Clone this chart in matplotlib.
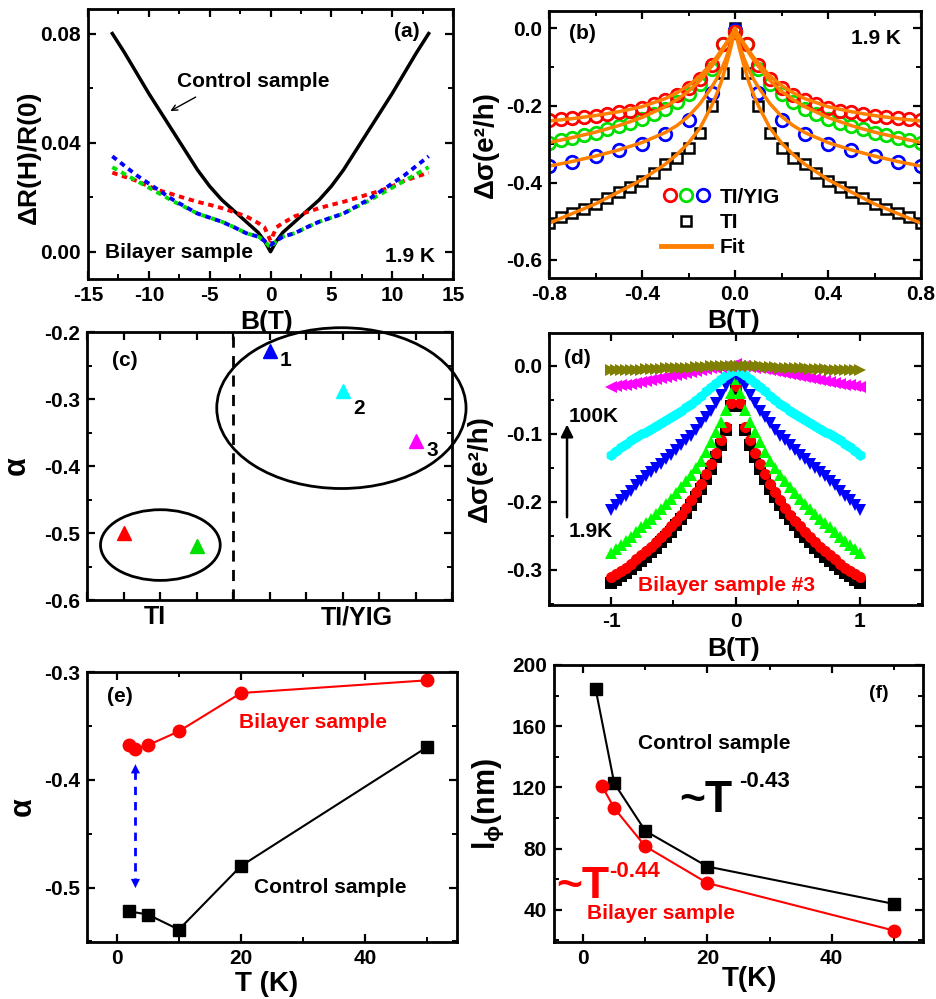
import numpy as np
import matplotlib
matplotlib.use('Agg')
import matplotlib.pyplot as plt
from matplotlib.patches import Ellipse
from matplotlib.lines import Line2D
from matplotlib.legend_handler import HandlerTuple
from matplotlib.ticker import MultipleLocator, FormatStrFormatter

plt.rcParams['font.family'] = ['Liberation Sans', 'DejaVu Sans']
plt.rcParams['font.weight'] = 'bold'
plt.rcParams['axes.labelweight'] = 'bold'
plt.rcParams['axes.unicode_minus'] = False
plt.rcParams['mathtext.fontset'] = 'custom'
plt.rcParams['mathtext.rm'] = 'Liberation Sans:bold'
plt.rcParams['mathtext.it'] = 'Liberation Sans:bold'
plt.rcParams['mathtext.bf'] = 'Liberation Sans:bold'

# (a) magnetoresistance, B >= 0 half (mirrored)
a_B = [0, 0.5, 1, 2, 3, 4, 5, 6, 7, 8, 9, 10, 11, 12, 13]
a_control = [0.0, 0.004, 0.007, 0.011, 0.015, 0.019, 0.024, 0.030, 0.037, 0.044, 0.051, 0.058, 0.0655, 0.073, 0.080]
a_red = [0.004, 0.009, 0.0105, 0.013, 0.0145, 0.016, 0.0172, 0.0183, 0.0196, 0.021, 0.0223, 0.024, 0.026, 0.0275, 0.029]
a_green = [0.0015, 0.004, 0.0055, 0.0068, 0.009, 0.011, 0.0125, 0.014, 0.0163, 0.0185, 0.021, 0.0235, 0.026, 0.0285, 0.031]
a_blue = [0.0025, 0.004, 0.0055, 0.0068, 0.009, 0.011, 0.0125, 0.014, 0.0165, 0.019, 0.022, 0.025, 0.028, 0.0315, 0.035]

# (b) WAL at 1.9 K
b_B = [0, 0.05, 0.1, 0.15, 0.2, 0.25, 0.3, 0.35, 0.4, 0.45, 0.5, 0.55, 0.6, 0.65, 0.7, 0.75, 0.8]
b_red = [-0.01, -0.04, -0.095, -0.13, -0.155, -0.172, -0.186, -0.197, -0.206, -0.213, -0.218, -0.222, -0.226, -0.229, -0.232, -0.235, -0.238]
b_green = [-0.01, -0.04, -0.105, -0.145, -0.17, -0.19, -0.208, -0.222, -0.235, -0.245, -0.254, -0.262, -0.27, -0.277, -0.284, -0.29, -0.296]
b_black = [0.0, -0.115, -0.2, -0.27, -0.31, -0.335, -0.352, -0.375, -0.395, -0.41, -0.425, -0.44, -0.455, -0.467, -0.478, -0.49, -0.505]
b_Bblue = [0, 0.1, 0.2, 0.3, 0.4, 0.5, 0.6, 0.7, 0.8]
b_blue = [-0.005, -0.168, -0.237, -0.275, -0.299, -0.316, -0.331, -0.346, -0.357]
fit_B = [0, 0.01, 0.02, 0.04, 0.06, 0.08, 0.1, 0.15, 0.2, 0.25, 0.3, 0.4, 0.5, 0.6, 0.7, 0.8]
fit_red = [0, -0.012, -0.022, -0.04, -0.058, -0.075, -0.09, -0.123, -0.148, -0.167, -0.182, -0.203, -0.216, -0.226, -0.234, -0.24]
fit_green = [0, -0.013, -0.024, -0.044, -0.064, -0.082, -0.098, -0.135, -0.163, -0.185, -0.203, -0.231, -0.252, -0.269, -0.283, -0.296]
fit_blue = [0, -0.025, -0.045, -0.08, -0.108, -0.132, -0.152, -0.195, -0.228, -0.252, -0.27, -0.296, -0.315, -0.331, -0.345, -0.357]
fit_black = [0, -0.03, -0.055, -0.1, -0.14, -0.172, -0.2, -0.258, -0.297, -0.327, -0.352, -0.392, -0.424, -0.455, -0.48, -0.505]

# (c) alpha per sample
c_x = [1, 3, 5, 7, 9]
c_alpha = [-0.50, -0.52, -0.228, -0.288, -0.362]
c_colors = ['red', '#00e000', 'blue', 'cyan', 'magenta']

# (d) bilayer sample #3 vs temperature
d_B = [0, 0.04, 0.08, 0.12, 0.16, 0.2, 0.24, 0.28, 0.32, 0.36, 0.4, 0.44, 0.48, 0.52,
       0.56, 0.6, 0.64, 0.68, 0.72, 0.76, 0.8, 0.84, 0.88, 0.92, 0.96, 1.0]
d_black = [-0.035, -0.06, -0.095, -0.117, -0.135, -0.152, -0.167, -0.181, -0.193, -0.205, -0.216, -0.226, -0.235,
           -0.244, -0.252, -0.26, -0.268, -0.274, -0.281, -0.287, -0.293, -0.299, -0.305, -0.31, -0.315, -0.319]
d_red = [-0.03, -0.055, -0.09, -0.11, -0.128, -0.145, -0.16, -0.174, -0.186, -0.197, -0.209, -0.219, -0.228,
         -0.236, -0.244, -0.252, -0.26, -0.266, -0.273, -0.279, -0.285, -0.291, -0.297, -0.302, -0.307, -0.311]
d_green = [-0.02, -0.04, -0.065, -0.083, -0.098, -0.113, -0.127, -0.14, -0.151, -0.161, -0.169, -0.178, -0.187,
           -0.196, -0.204, -0.211, -0.218, -0.225, -0.232, -0.238, -0.245, -0.252, -0.258, -0.264, -0.27, -0.276]
d_blue = [-0.014, -0.02, -0.03, -0.043, -0.055, -0.066, -0.076, -0.085, -0.095, -0.103, -0.11, -0.117, -0.124,
          -0.132, -0.138, -0.145, -0.151, -0.157, -0.163, -0.169, -0.176, -0.184, -0.191, -0.198, -0.205, -0.212]
d_cyan = [-0.006, -0.009, -0.014, -0.02, -0.026, -0.032, -0.038, -0.045, -0.051, -0.056, -0.061, -0.066, -0.071,
          -0.075, -0.08, -0.084, -0.089, -0.093, -0.097, -0.101, -0.105, -0.11, -0.115, -0.12, -0.126, -0.131]
d_magenta = [0.002, 0.0, -0.001, -0.002, -0.003, -0.004, -0.005, -0.007, -0.008, -0.009, -0.011, -0.012, -0.014,
             -0.015, -0.017, -0.018, -0.02, -0.021, -0.023, -0.024, -0.026, -0.027, -0.028, -0.029, -0.03, -0.031]
d_olive = [0.0, 0.0, 0.0, -0.001, -0.001, -0.001, -0.002, -0.002, -0.002, -0.003, -0.003, -0.003, -0.004,
           -0.004, -0.004, -0.005, -0.005, -0.005, -0.005, -0.006, -0.006, -0.006, -0.006, -0.007, -0.007, -0.007]

# (e) alpha vs T
e_T_bil = [1.9, 3, 5, 10, 20, 50]
e_bil = [-0.3674, -0.371, -0.368, -0.355, -0.3195, -0.3077]
e_T_con = [1.9, 5, 10, 20, 50]
e_con = [-0.522, -0.525, -0.539, -0.480, -0.3696]

# (f) phase coherence length vs T
f_T_con = [2, 5, 10, 20, 50]
f_con = [184.3, 122.7, 91.6, 68.3, 43.9]
f_T_bil = [3, 5, 10, 20, 50]
f_bil = [121.2, 106.4, 81.5, 57.5, 26.5]


def sym(x, y):
    x = np.asarray(x, float)
    y = np.asarray(y, float)
    return np.concatenate([-x[:0:-1], x]), np.concatenate([y[:0:-1], y])


def box(l, t, r, b):
    return [l / 936, 1 - b / 999, (r - l) / 936, (b - t) / 999]


def style(ax, xmaj, xmin, ymaj, ymin, yfmt=None):
    ax.xaxis.set_major_locator(MultipleLocator(xmaj))
    ax.xaxis.set_minor_locator(MultipleLocator(xmin))
    ax.yaxis.set_major_locator(MultipleLocator(ymaj))
    ax.yaxis.set_minor_locator(MultipleLocator(ymin))
    if yfmt:
        ax.yaxis.set_major_formatter(FormatStrFormatter(yfmt))
    ax.tick_params(which='both', direction='in', top=True, right=True, labelsize=15, pad=5)
    ax.tick_params(which='major', length=6, width=1.6)
    ax.tick_params(which='minor', length=3.5, width=1.4)
    for s in ax.spines.values():
        s.set_linewidth(2)


fig = plt.figure(figsize=(9.36, 9.99), dpi=100)
LAB = 19
TXT = 15

# ---- (a)
ax = fig.add_axes(box(88, 9, 453, 279))
x, y = sym(a_B, a_control)
ax.plot(x, y, color='black', lw=2.5)
for vals, c in [(a_red, 'red'), (a_green, '#00e000'), (a_blue, 'blue')]:
    x, y = sym(a_B, vals)
    ax.plot(x, y, color=c, lw=2.8, dashes=(1.4, 1.2))
ax.set_xlim(-15, 15)
ax.set_ylim(-0.01, 0.089)
style(ax, 5, 2.5, 0.04, 0.02, '%.2f')
ax.set_xlabel('B(T)', fontsize=LAB)
ax.set_ylabel('ΔR(H)/R(0)', fontsize=LAB)
ax.xaxis.set_label_coords(0.49, -0.115)
ax.yaxis.set_label_coords(-0.13, 0.45)
ax.text(11.2, 0.0808, '(a)', fontsize=15, ha='center', va='center')
ax.text(-1.4, 0.0623, 'Control sample', fontsize=TXT, ha='center', va='center')
ax.annotate('', xy=(-8.43, 0.0511), xytext=(-5.95, 0.0572),
            arrowprops=dict(arrowstyle='->', color='black', lw=1.0))
ax.text(-7.5, -0.0004, 'Bilayer sample', fontsize=TXT, ha='center', va='center')
ax.text(11.5, -0.0016, '1.9 K', fontsize=TXT, ha='center', va='center')

# ---- (b)
ax = fig.add_axes(box(549, 11, 921, 278))
ms_c = dict(marker='o', ls='none', mfc='none', ms=9, mew=2)
x, y = sym(b_B, b_black)
hk, = ax.plot(x, y, marker='s', ls='none', mfc='none', mec='black', ms=7.5, mew=1.8)
x, y = sym(b_Bblue, b_blue)
hb, = ax.plot(x, y, mec='blue', **ms_c)
x, y = sym(b_B, b_green)
hg, = ax.plot(x, y, mec='#00e000', **ms_c)
x, y = sym(b_B, b_red)
hr, = ax.plot(x, y, mec='red', **ms_c)
for vals in [fit_red, fit_green, fit_blue, fit_black]:
    x, y = sym(fit_B, vals)
    ax.plot(x, y, color='#ff8000', lw=2.5)
ax.set_xlim(-0.8, 0.8)
ax.set_ylim(-0.647, 0.045)
style(ax, 0.4, 0.2, 0.2, 0.1, '%.1f')
ax.xaxis.set_major_formatter(FormatStrFormatter('%.1f'))
ax.set_xlabel('B(T)', fontsize=LAB)
ax.set_ylabel('Δσ(e²/h)', fontsize=LAB + 1)
ax.xaxis.set_label_coords(0.495, -0.115)
ax.yaxis.set_label_coords(-0.134, 0.5)
ax.text(-0.656, -0.0145, '(b)', fontsize=15, ha='center', va='center')
ax.text(0.607, -0.027, '1.9 K', fontsize=TXT, ha='center', va='center')
leg = ax.legend([(hr, hg, hb), hk, Line2D([], [], color='#ff8000', lw=3.5)],
                ['TI/YIG', 'TI', 'Fit'],
                handler_map={tuple: HandlerTuple(ndivide=None, pad=0)},
                loc='upper left', bbox_to_anchor=(0.28, 0.37), frameon=False,
                fontsize=TXT, handlelength=2.4, handletextpad=0.4, labelspacing=0.3,
                borderaxespad=0)

# ---- (c)
ax = fig.add_axes(box(87, 332, 452, 600))
for xi, ai, c in zip(c_x, c_alpha, c_colors):
    ax.plot(xi, ai, marker='^', color=c, ms=10.5, ls='none')
ax.axvline(4, color='black', ls=(0, (4, 3)), lw=2)
ax.add_patch(Ellipse((6.97, -0.3136), 6.83, 0.240, fill=False, lw=2, ec='black', clip_on=False))
ax.add_patch(Ellipse((2.01, -0.518), 3.28, 0.1055, fill=False, lw=2, ec='black'))
ax.set_xlim(0, 10)
ax.set_ylim(-0.6, -0.2)
style(ax, 1, 1, 0.1, 0.05, '%.1f')
ax.tick_params(axis='x', labelbottom=False)
ax.set_ylabel('α', fontsize=LAB + 3)
ax.yaxis.set_label_coords(-0.15, 0.5)
ax.text(1.04, -0.242, '(c)', fontsize=15, ha='center', va='center')
for xi, yi, s in [(5.43, -0.242, '1'), (7.45, -0.314, '2'), (9.46, -0.377, '3')]:
    ax.text(xi, yi, s, fontsize=TXT, ha='center', va='center')
tr = ax.get_xaxis_transform()
ax.text(1.86, -0.065, 'TI', fontsize=LAB - 1, ha='center', va='center', transform=tr)
ax.text(7.4, -0.065, 'TI/YIG', fontsize=LAB - 1, ha='center', va='center', transform=tr)

# ---- (d)
ax = fig.add_axes(box(549, 333, 922, 605))
for vals, c, m in [(d_black, 'black', 's'), (d_red, 'red', 'o'), (d_green, '#00ff00', '^'),
                   (d_blue, 'blue', 'v'), (d_cyan, 'cyan', 'h'), (d_magenta, '#ff00ff', '<'),
                   (d_olive, '#808000', '>')]:
    x, y = sym(d_B, vals)
    ax.plot(x, y, marker=m, color=c, ls='none', ms=8, mew=0)
ax.set_xlim(-1.5, 1.5)
ax.set_ylim(-0.352, 0.048)
style(ax, 1, 0.5, 0.1, 0.05, '%.1f')
ax.set_xlabel('B(T)', fontsize=LAB)
ax.set_ylabel('Δσ(e²/h)', fontsize=LAB + 1)
ax.xaxis.set_label_coords(0.495, -0.118)
ax.yaxis.set_label_coords(-0.15, 0.5)
ax.text(-1.27, 0.011, '(d)', fontsize=15, ha='center', va='center')
ax.text(-1.34, -0.075, '100K', fontsize=TXT, ha='left', va='center')
ax.text(-1.34, -0.244, '1.9K', fontsize=TXT, ha='left', va='center')
ax.annotate('', xy=(-1.355, -0.0825), xytext=(-1.355, -0.227),
            arrowprops=dict(arrowstyle='-|>', color='black', lw=1.8, mutation_scale=18))
ax.text(-0.07, -0.323, 'Bilayer sample #3', fontsize=TXT, color='red', ha='center', va='center')

# ---- (e)
ax = fig.add_axes(box(87, 672, 457, 942))
ax.plot(e_T_bil, e_bil, color='red', marker='o', ms=9, lw=1.5)
ax.plot(e_T_con, e_con, color='black', marker='s', ms=8.5, lw=1.5)
ax.plot([3, 3], [-0.392, -0.494], color='blue', lw=2, ls=(0, (3, 2.5)))
ax.annotate('', xy=(3, -0.383), xytext=(3, -0.393),
            arrowprops=dict(arrowstyle='-|>', color='blue', lw=0.1, mutation_scale=16))
ax.annotate('', xy=(3, -0.503), xytext=(3, -0.493),
            arrowprops=dict(arrowstyle='-|>', color='blue', lw=0.1, mutation_scale=16))
ax.set_xlim(-4.8, 54.8)
ax.set_ylim(-0.5505, -0.3)
style(ax, 20, 10, 0.1, 0.05, '%.1f')
ax.set_xlabel('T (K)', fontsize=LAB + 1)
ax.set_ylabel('α', fontsize=LAB + 3)
ax.xaxis.set_label_coords(0.486, -0.108)
ax.yaxis.set_label_coords(-0.132, 0.5)
ax.text(0.5, -0.323, '(e)', fontsize=15, ha='center', va='center')
ax.text(31.6, -0.3464, 'Bilayer sample', fontsize=TXT, color='red', ha='center', va='center')
ax.text(34.4, -0.4997, 'Control sample', fontsize=TXT, ha='center', va='center')

# ---- (f)
ax = fig.add_axes(box(554, 665, 923, 942))
ax.plot(f_T_con, f_con, color='black', marker='s', ms=9, lw=1.5)
ax.plot(f_T_bil, f_bil, color='red', marker='o', ms=9, lw=1.5)
ax.set_xlim(-4.7, 54.7)
ax.set_ylim(19, 200)
style(ax, 20, 10, 40, 20)
ax.set_xlabel('T(K)', fontsize=LAB + 1)
ax.set_ylabel(r'l$_{\phi}$(nm)', fontsize=LAB + 3)
ax.xaxis.set_label_coords(0.529, -0.085)
ax.yaxis.set_label_coords(-0.13, 0.5)
ax.text(47.6, 181.7, '(f)', fontsize=14, ha='center', va='center')
ax.text(21.1, 149, 'Control sample', fontsize=TXT, ha='center', va='center')
ax.text(15.4, 104.1, '~T', fontsize=32, ha='left', va='baseline')
ax.text(25.1, 120.5, '-0.43', fontsize=16, ha='left', va='baseline')
ax.text(-4.4, 47.7, '~T', fontsize=32, color='red', ha='left', va='baseline', clip_on=False)
ax.text(4.1, 61.6, '-0.44', fontsize=16, color='red', ha='left', va='baseline')
ax.text(12.5, 37.9, 'Bilayer sample', fontsize=TXT, color='red', ha='center', va='center')

fig.savefig('out.png', dpi=100)
